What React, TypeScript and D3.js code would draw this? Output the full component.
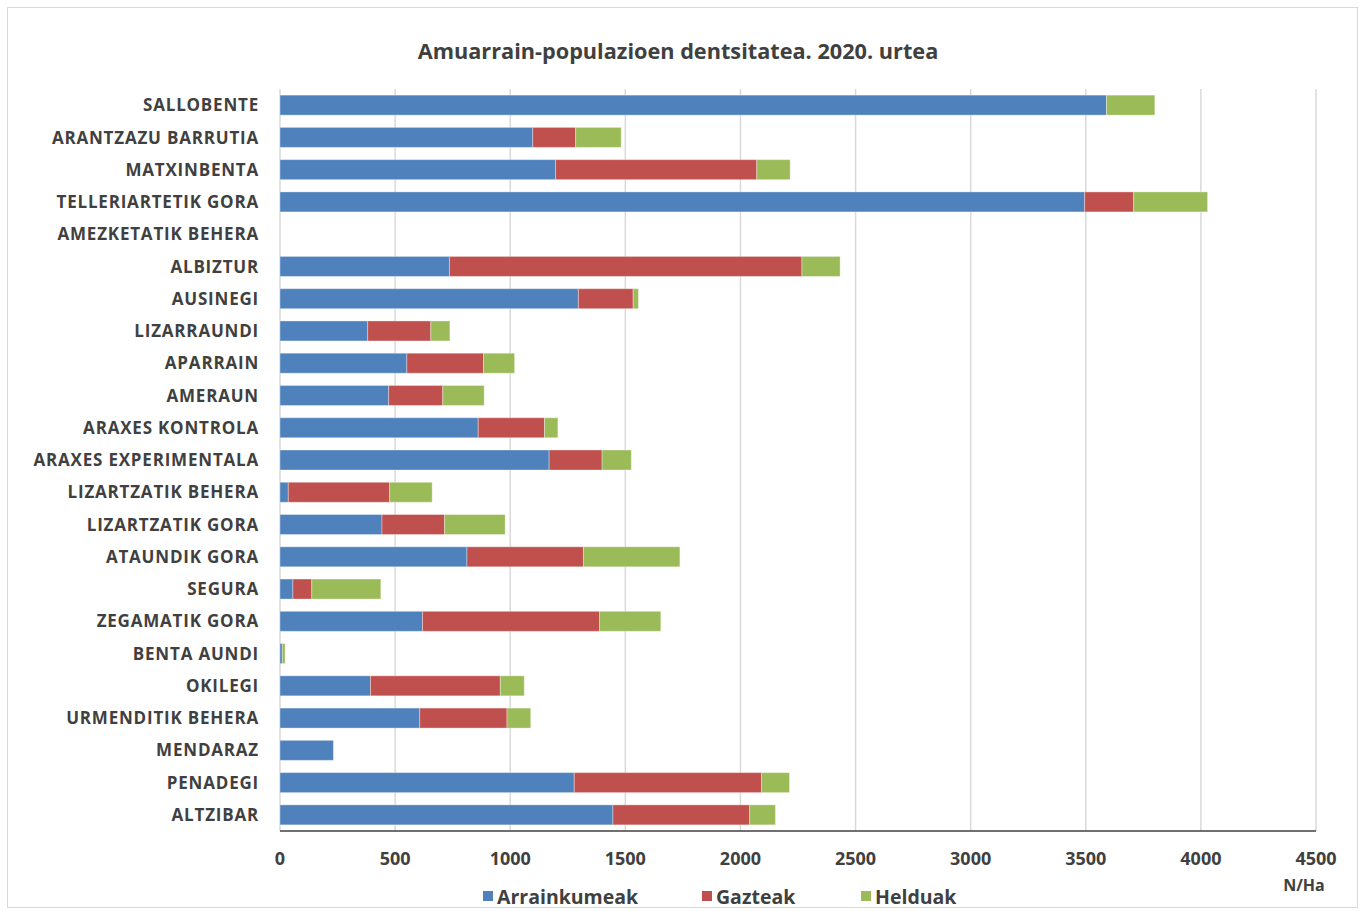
import React from "react";
import * as d3 from "d3";

const categories = [
  "SALLOBENTE", "ARANTZAZU BARRUTIA", "MATXINBENTA", "TELLERIARTETIK GORA",
  "AMEZKETATIK BEHERA", "ALBIZTUR", "AUSINEGI", "LIZARRAUNDI", "APARRAIN",
  "AMERAUN", "ARAXES KONTROLA", "ARAXES EXPERIMENTALA", "LIZARTZATIK BEHERA",
  "LIZARTZATIK GORA", "ATAUNDIK GORA", "SEGURA", "ZEGAMATIK GORA",
  "BENTA AUNDI", "OKILEGI", "URMENDITIK BEHERA", "MENDARAZ", "PENADEGI", "ALTZIBAR",
];
const arrainkumeak = [3590, 1098, 1197, 3495, 0, 736, 1296, 381, 551, 472, 861, 1169, 36, 443, 812, 56, 619, 10, 393, 607, 232, 1278, 1446];
const gazteak = [0, 186, 874, 213, 0, 1531, 238, 274, 333, 235, 288, 230, 440, 272, 506, 82, 769, 0, 564, 379, 0, 814, 594];
const helduak = [210, 198, 145, 321, 0, 166, 23, 83, 135, 180, 58, 127, 185, 263, 419, 300, 266, 12, 104, 103, 0, 121, 112];
const seriesNames = ["Arrainkumeak", "Gazteak", "Helduak"];
const seriesColors = ["#4f81bd", "#c0504d", "#9bbb59"];
const xTicks = [0, 500, 1000, 1500, 2000, 2500, 3000, 3500, 4000, 4500];
const title = "Amuarrain-populazioen dentsitatea. 2020. urtea";
const unitLabel = "N/Ha";

const W = 1367;
const H = 911;
const M = { left: 280, right: 51, top: 89, bottom: 80 };
const font = "'Open Sans', 'DejaVu Sans', sans-serif";

export default function App() {
  const x = d3.scaleLinear().domain([0, 4500]).range([M.left, W - M.right]);
  const y = d3.scaleBand<string>().domain(categories).range([M.top, H - M.bottom]).paddingInner(0.38).paddingOuter(0.19);
  const rows = categories.map((c, i) => ({ c, vals: [arrainkumeak[i], gazteak[i], helduak[i]] }));
  const stack = d3.stack<any>().keys(["0", "1", "2"]).value((d: any, k) => d.vals[+k])(rows as any);
  const legendX = [483, 702, 861];

  return (
    <svg width={W} height={H} style={{ position: "absolute", left: 0, top: 0, background: "#fff" }}>
      <rect x={7.5} y={7.5} width={1350} height={900} fill="#fff" stroke="#d9d9d9" strokeWidth={1} />
      <text x={678} y={59} textAnchor="middle" fontFamily={font} fontWeight="bold" fontSize={21.7} fill="#404040">{title}</text>
      {xTicks.map((t) => (
        <line key={t} x1={x(t)} x2={x(t)} y1={M.top} y2={H - M.bottom} stroke="#d9d9d9" strokeWidth={1.5} />
      ))}
      {stack.map((s, si) => (
        <g key={si} fill={seriesColors[si]}>
          {s.map((d, i) => (
            d[1] - d[0] > 0 ? (
              <rect key={i} x={x(d[0])} y={y(categories[i])!} width={x(d[1]) - x(d[0])} height={y.bandwidth()}
                stroke="#ffffff" strokeOpacity={0.35} strokeWidth={1} />
            ) : null
          ))}
        </g>
      ))}
      <line x1={M.left} x2={W - M.right} y1={H - M.bottom} y2={H - M.bottom} stroke="#404040" strokeWidth={1.5} />
      {categories.map((c) => (
        <text key={c} x={259} y={y(c)! + y.bandwidth() / 2} dy="0.36em" textAnchor="end" fontFamily={font}
          fontWeight="bold" fontSize={17} letterSpacing={0.8} fill="#404040">{c}</text>
      ))}
      {xTicks.map((t) => (
        <text key={t} x={x(t)} y={865} textAnchor="middle" fontFamily={font} fontWeight="bold" fontSize={18} fill="#404040">{t}</text>
      ))}
      <text x={1304} y={891} textAnchor="middle" fontFamily={font} fontWeight="bold" fontSize={16} fill="#404040">{unitLabel}</text>
      {seriesNames.map((n, i) => (
        <g key={n}>
          <rect x={legendX[i]} y={891} width={10} height={10} fill={seriesColors[i]} />
          <text x={legendX[i] + 14} y={904} fontFamily={font} fontWeight="bold" fontSize={19.5} fill="#404040">{n}</text>
        </g>
      ))}
    </svg>
  );
}
